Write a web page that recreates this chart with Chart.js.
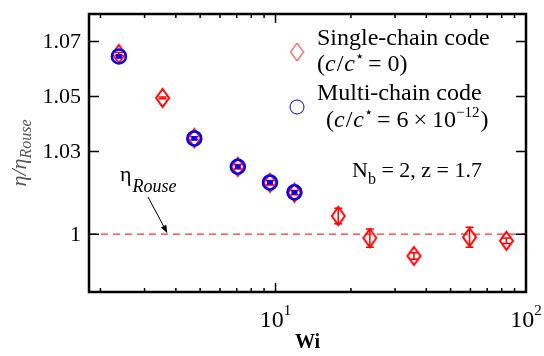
<!DOCTYPE html>
<html>
<head>
<meta charset="utf-8">
<script src="https://cdn.jsdelivr.net/npm/chart.js@4.4.0/dist/chart.umd.min.js"></script>
<style>
  html, body { margin: 0; padding: 0; background: #fff; }
  #wrap { width: 544px; height: 356px; }
</style>
</head>
<body>
<div id="wrap"><canvas id="myChart"></canvas></div>
<script>
// single-chain code, c/c* = 0
const singleWi = [2.37, 3.54, 4.74, 7.07, 9.5, 11.9, 17.8, 23.8, 35.7, 59.5, 83.5];
const singleEta = [1.0655, 1.0495, 1.0349, 1.0245, 1.0187, 1.0151, 1.0066, 0.9986, 0.9921, 0.9989, 0.9976];
const singleErr = [0.0005, 0.0003, 0.0005, 0.0008, 0.0008, 0.0008, 0.0028, 0.0033, 0.0012, 0.0036, 0.001];

// multi-chain code, c/c* = 6e-12
const multiWi = [2.37, 4.74, 7.07, 9.5, 11.9];
const multiEta = [1.0646, 1.0348, 1.0245, 1.0188, 1.0152];
const multiErr = [0.0004, 0.0004, 0.0004, 0.0004, 0.0004];

const xTicks = [10, 100];
const xTickExp = ["1", "2"];
const yTicks = [1, 1.03, 1.05, 1.07];
const yTickLabels = ["1", "1.03", "1.05", "1.07"];
const rouseLevel = 1;

const serif = "'Liberation Serif', 'Times New Roman', serif";

function diamondImage(w, h, lw, color) {
    const c = document.createElement("canvas");
    c.width = w + lw * 2;
    c.height = h + lw * 2;
    const g = c.getContext("2d");
    const cx = c.width / 2, cy = c.height / 2;
    g.strokeStyle = color;
    g.lineWidth = lw;
    g.beginPath();
    g.moveTo(cx, cy - h / 2);
    g.lineTo(cx + w / 2, cy);
    g.lineTo(cx, cy + h / 2);
    g.lineTo(cx - w / 2, cy);
    g.closePath();
    g.stroke();
    return c;
}

// draws a row of text pieces (italic, super/subscript) left to right
function drawRuns(ctx, x, y, runs) {
    for (const r of runs) {
        ctx.font = r.font;
        ctx.fillText(r.t, x, y + (r.dy || 0));
        x += ctx.measureText(r.t).width + (r.gap || 0);
    }
    return x;
}

function runsWidth(ctx, runs) {
    let w = 0;
    for (const r of runs) {
        ctx.font = r.font;
        w += ctx.measureText(r.t).width + (r.gap || 0);
    }
    return w;
}

const rm = "24px " + serif;
const it = "italic 24px " + serif;
const sm = "15px " + serif;

const decorations = {
    id: "decorations",
    beforeDatasetsDraw(chart) {
        const { ctx, chartArea: a, scales: { y } } = chart;
        const yy = y.getPixelForValue(rouseLevel);
        ctx.save();
        ctx.strokeStyle = "#ff3030";
        ctx.lineWidth = 1.3;
        ctx.setLineDash([7, 5]);
        ctx.beginPath();
        ctx.moveTo(a.left, yy);
        ctx.lineTo(a.right, yy);
        ctx.stroke();
        ctx.restore();
    },
    afterDatasetDraw(chart, args) {
        const ds = chart.data.datasets[args.index];
        if (!ds.errors) return;
        const { ctx, scales: { x, y } } = chart;
        ctx.save();
        ctx.strokeStyle = ds.borderColor;
        ctx.lineWidth = ds.errWidth;
        ds.data.forEach((p, i) => {
            const e = ds.errors[i];
            const px = x.getPixelForValue(p.x);
            const y1 = y.getPixelForValue(p.y - e);
            const y2 = y.getPixelForValue(p.y + e);
            const hw = ds.capWidth / 2;
            ctx.beginPath();
            ctx.moveTo(px, y1); ctx.lineTo(px, y2);
            ctx.moveTo(px - hw, y1); ctx.lineTo(px + hw, y1);
            ctx.moveTo(px - hw, y2); ctx.lineTo(px + hw, y2);
            ctx.stroke();
        });
        ctx.restore();
    },
    afterDraw(chart) {
        const { ctx, chartArea: a, scales: { x, y } } = chart;
        ctx.save();
        ctx.strokeStyle = "#000";
        ctx.fillStyle = "#000";

        // inward ticks on all four sides
        ctx.lineWidth = 1.5;
        ctx.beginPath();
        const lo = Math.floor(Math.log10(x.min)), hi = Math.ceil(Math.log10(x.max));
        for (let k = lo; k < hi; k++) {
            for (let m = 2; m <= 9; m++) {
                const v = m * Math.pow(10, k);
                if (v <= x.min || v >= x.max) continue;
                const px = x.getPixelForValue(v);
                ctx.moveTo(px, a.bottom); ctx.lineTo(px, a.bottom - 4);
                ctx.moveTo(px, a.top); ctx.lineTo(px, a.top + 4);
            }
        }
        xTicks.forEach(v => {
            const px = x.getPixelForValue(v);
            ctx.moveTo(px, a.bottom); ctx.lineTo(px, a.bottom - 9);
            ctx.moveTo(px, a.top); ctx.lineTo(px, a.top + 9);
        });
        yTicks.forEach(v => {
            const py = y.getPixelForValue(v);
            ctx.moveTo(a.left, py); ctx.lineTo(a.left + 10, py);
            ctx.moveTo(a.right, py); ctx.lineTo(a.right - 10, py);
        });
        ctx.stroke();

        // frame
        ctx.lineWidth = 2.5;
        ctx.strokeRect(a.left, a.top, a.right - a.left, a.bottom - a.top);

        // tick labels
        ctx.textBaseline = "middle";
        ctx.textAlign = "right";
        ctx.font = "22px " + serif;
        yTicks.forEach((v, i) => {
            ctx.fillText(yTickLabels[i], a.left - 8, y.getPixelForValue(v) + 1);
        });
        ctx.textBaseline = "alphabetic";
        ctx.textAlign = "left";
        xTicks.forEach((v, i) => {
            const runs = [
                { t: "10", font: "24px " + serif },
                { t: xTickExp[i], font: "15px " + serif, dy: -12 }
            ];
            const px = x.getPixelForValue(v);
            drawRuns(ctx, px - runsWidth(ctx, runs) / 2, 327, runs);
        });

        // axis titles
        ctx.textAlign = "center";
        ctx.font = "bold 20px " + serif;
        ctx.fillText("Wi", (a.left + a.right) / 2, 348);

        ctx.textAlign = "left";
        const yTitle = [
            { t: "\u03b7/\u03b7", font: "italic 22px " + serif },
            { t: "Rouse", font: "italic 16px " + serif, dy: 5 }
        ];
        ctx.save();
        ctx.fillStyle = "#555";
        ctx.translate(26, (a.top + a.bottom) / 2);
        ctx.rotate(-Math.PI / 2);
        drawRuns(ctx, -runsWidth(ctx, yTitle) / 2, 0, yTitle);
        ctx.restore();

        // legend
        const lx = 297;
        ctx.drawImage(legendDiamond, lx - legendDiamond.width / 2, 52 - legendDiamond.height / 2);
        ctx.strokeStyle = "#0000ff";
        ctx.lineWidth = 1;
        ctx.beginPath();
        ctx.arc(lx, 107, 7, 0, Math.PI * 2);
        ctx.stroke();

        drawRuns(ctx, 317, 45, [{ t: "Single-chain code", font: rm }]);
        drawRuns(ctx, 317, 71, [
            { t: "(", font: rm }, { t: "c", font: it, gap: 1 }, { t: "/", font: rm, gap: 1 },
            { t: "c", font: it }, { t: "\u22c6", font: sm, dy: -10, gap: 4 },
            { t: "=", font: rm, gap: 6 }, { t: "0)", font: rm }
        ]);
        drawRuns(ctx, 317, 100, [{ t: "Multi-chain code", font: rm }]);
        drawRuns(ctx, 326, 127, [
            { t: "(", font: rm }, { t: "c", font: it, gap: 1 }, { t: "/", font: rm, gap: 1 },
            { t: "c", font: it }, { t: "\u22c6", font: sm, dy: -10, gap: 4 },
            { t: "=", font: rm, gap: 6 }, { t: "6", font: rm, gap: 5 },
            { t: "\u00d7", font: rm, gap: 5 }, { t: "10", font: rm },
            { t: "\u221212", font: sm, dy: -10, gap: 1 }, { t: ")", font: rm }
        ]);
        drawRuns(ctx, 352, 177, [
            { t: "N", font: "22px " + serif }, { t: "b", font: "16px " + serif, dy: 7 },
            { t: " = 2, z = 1.7", font: "22px " + serif }
        ]);

        // eta_Rouse label and arrow to the dashed line
        drawRuns(ctx, 120, 181, [
            { t: "\u03b7", font: "22px " + serif, gap: 1 },
            { t: "Rouse", font: "italic 18px " + serif, dy: 11 }
        ]);
        const tx = x.getPixelForValue(3.7), ty = y.getPixelForValue(rouseLevel) - 1;
        const sx = 148, sy = 197;
        const ang = Math.atan2(ty - sy, tx - sx);
        ctx.strokeStyle = "#000";
        ctx.lineWidth = 1;
        ctx.beginPath();
        ctx.moveTo(sx, sy);
        ctx.lineTo(tx - 6 * Math.cos(ang), ty - 6 * Math.sin(ang));
        ctx.stroke();
        ctx.beginPath();
        ctx.moveTo(tx, ty);
        ctx.lineTo(tx - 8 * Math.cos(ang) + 3 * Math.sin(ang), ty - 8 * Math.sin(ang) - 3 * Math.cos(ang));
        ctx.lineTo(tx - 8 * Math.cos(ang) - 3 * Math.sin(ang), ty - 8 * Math.sin(ang) + 3 * Math.cos(ang));
        ctx.closePath();
        ctx.fill();

        ctx.restore();
    }
};

const dataDiamond = diamondImage(13, 18, 2, "#ff0000");
const legendDiamond = diamondImage(13, 18, 1, "#ff0000");

const ctx = document.getElementById("myChart");

new Chart(ctx, {
    type: "scatter",
    data: {
        datasets: [
            {
                label: "Multi-chain code",
                data: multiWi.map((w, i) => ({ x: w, y: multiEta[i] })),
                pointStyle: "circle",
                pointRadius: 7,
                borderWidth: 2.5,
                borderColor: "#0000ff",
                backgroundColor: "rgba(0,0,0,0)",
                order: 0,
                errors: multiErr,
                errWidth: 2.5,
                capWidth: 6,
            },
            {
                label: "Single-chain code",
                data: singleWi.map((w, i) => ({ x: w, y: singleEta[i] })),
                pointStyle: dataDiamond,
                pointRadius: 9,
                borderColor: "#ff0000",
                backgroundColor: "rgba(0,0,0,0)",
                order: 1,
                errors: singleErr,
                errWidth: 1.5,
                capWidth: 8,
            },
        ],
    },
    options: {
        responsive: true,
        maintainAspectRatio: false,
        animation: false,
        layout: { padding: { top: 14, right: 18, left: 0, bottom: 0 } },
        plugins: {
            legend: { display: false },
            tooltip: { enabled: false },
        },
        scales: {
            x: {
                type: "logarithmic",
                min: 1.8,
                max: 100,
                grid: { display: false, drawTicks: false },
                border: { display: false },
                ticks: { display: false },
                afterFit: s => { s.height = 64; },
            },
            y: {
                min: 0.979,
                max: 1.08,
                grid: { display: false, drawTicks: false },
                border: { display: false },
                ticks: { display: false },
                afterFit: s => { s.width = 89; },
            },
        },
    },
    plugins: [decorations],
});
</script>
</body>
</html>
